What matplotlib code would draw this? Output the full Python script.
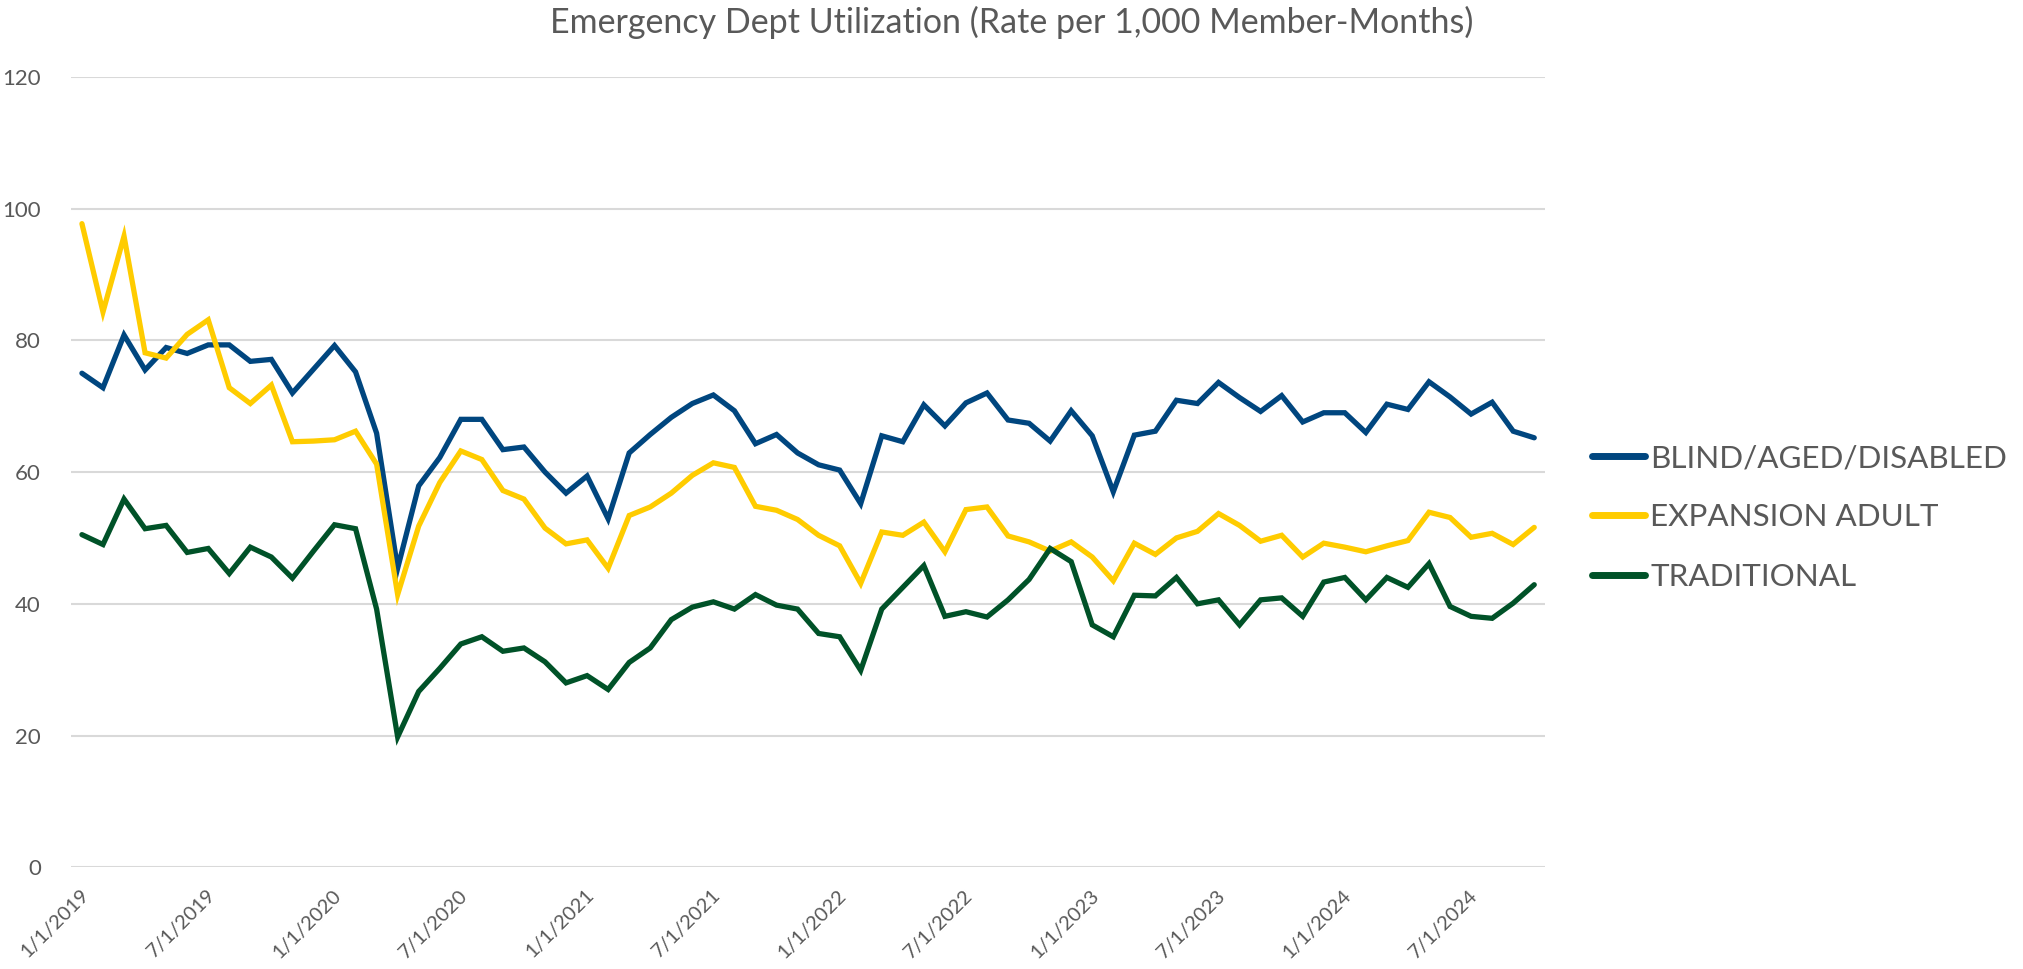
import matplotlib
matplotlib.use("Agg")
import matplotlib.pyplot as plt
import matplotlib.transforms as mtransforms

months = [f"{m}/1/{y}" for y in range(2019, 2025) for m in range(1, 13)][:70]

blind_aged_disabled = [
    75.0, 72.8, 80.8, 75.5, 78.9, 78.0, 79.3, 79.3, 76.8, 77.1, 72.0, 75.6,
    79.2, 75.2, 65.9, 45.4, 57.9, 62.2, 68.0, 68.0, 63.4, 63.8, 60.0, 56.8,
    59.4, 52.9, 62.9, 65.7, 68.3, 70.4, 71.7, 69.3, 64.3, 65.7, 62.9, 61.1,
    60.3, 55.2, 65.5, 64.6, 70.2, 67.0, 70.5, 72.0, 67.9, 67.4, 64.7, 69.3,
    65.5, 57.0, 65.6, 66.2, 70.9, 70.4, 73.6, 71.3, 69.2, 71.6, 67.6, 69.0,
    69.0, 66.0, 70.3, 69.5, 73.7, 71.4, 68.8, 70.6, 66.2, 65.2,
]
expansion_adult = [
    97.7, 84.3, 95.8, 78.1, 77.3, 80.9, 83.1, 72.8, 70.4, 73.2, 64.6, 64.7,
    64.9, 66.2, 61.2, 41.4, 51.8, 58.4, 63.2, 61.9, 57.2, 55.9, 51.5, 49.1,
    49.7, 45.4, 53.4, 54.7, 56.8, 59.5, 61.4, 60.7, 54.8, 54.2, 52.8, 50.4,
    48.8, 43.1, 50.9, 50.4, 52.4, 47.9, 54.3, 54.7, 50.3, 49.4, 48.0, 49.4,
    47.1, 43.5, 49.2, 47.5, 50.0, 51.0, 53.7, 51.9, 49.5, 50.4, 47.1, 49.2,
    48.6, 47.9, 48.8, 49.6, 53.9, 53.1, 50.1, 50.7, 49.0, 51.6,
]
traditional = [
    50.5, 49.0, 55.9, 51.4, 51.9, 47.8, 48.4, 44.6, 48.6, 47.1, 43.9, 48.0,
    52.0, 51.4, 39.2, 19.8, 26.7, 30.2, 33.9, 35.0, 32.8, 33.3, 31.2, 28.0,
    29.1, 27.0, 31.1, 33.3, 37.6, 39.5, 40.3, 39.2, 41.4, 39.8, 39.2, 35.5,
    35.0, 29.9, 39.2, 42.5, 45.8, 38.1, 38.8, 38.0, 40.6, 43.7, 48.4, 46.4,
    36.8, 35.0, 41.3, 41.2, 44.0, 40.0, 40.6, 36.8, 40.6, 40.9, 38.1, 43.3,
    44.0, 40.6, 44.0, 42.5, 46.1, 39.6, 38.1, 37.8, 40.1, 42.9,
]
series_names = ["BLIND/AGED/DISABLED", "EXPANSION ADULT", "TRADITIONAL"]
series_colors = ["#00467F", "#FFCC00", "#005228"]
title = "Emergency Dept Utilization (Rate per 1,000 Member-Months)"
y_ticks = [0, 20, 40, 60, 80, 100, 120]

plt.rcParams["font.family"] = ["Lato", "DejaVu Sans"]
TXT = "#595959"

fig = plt.figure(figsize=(20.23, 9.69), dpi=100)
ax = fig.add_axes([0.0353, 0.1049, 0.7283, 0.8159])

x = list(range(len(months)))
for vals, name, col in zip([blind_aged_disabled, expansion_adult, traditional],
                           series_names, series_colors):
    ax.plot(x, vals, color=col, lw=3.8, label=name, solid_joinstyle="miter",
            solid_capstyle="round")

ax.set_xlim(-0.5, len(months) - 0.5)
ax.set_ylim(0, 120)
ax.set_yticks(y_ticks)
ax.set_yticklabels([str(t) for t in y_ticks], fontsize=16, color=TXT)
ax.yaxis.grid(True, color="#D9D9D9", lw=1.5)
ax.set_axisbelow(True)
for s in ax.spines.values():
    s.set_visible(False)
ax.tick_params(axis="y", length=0, pad=22)
ax.tick_params(axis="x", length=0, pad=18)

tick_pos = x[::6]
ax.set_xticks(tick_pos)
ax.set_xticklabels([months[i] for i in tick_pos], rotation=45, ha="right",
                   va="center", rotation_mode="anchor", fontsize=14.5,
                   color=TXT)
shift = mtransforms.ScaledTranslation(4 / 100, 0, fig.dpi_scale_trans)
for lab in ax.get_xticklabels():
    lab.set_transform(lab.get_transform() + shift)

fig.text(0.5, 1 - 33 / 969, title, ha="center", va="baseline",
         fontsize=24.5, color=TXT)

leg = ax.legend(loc="center left", bbox_to_anchor=(0.787, 0.466),
                bbox_transform=fig.transFigure, frameon=False, fontsize=22.6,
                handlelength=1.7, handletextpad=0.15, labelspacing=1.0,
                borderpad=0, borderaxespad=0)
for t in leg.get_texts():
    t.set_color(TXT)
for h in leg.get_lines():
    h.set_linewidth(5)
    h.set_solid_capstyle("round")

fig.savefig("out.png", dpi=100, facecolor="white")
